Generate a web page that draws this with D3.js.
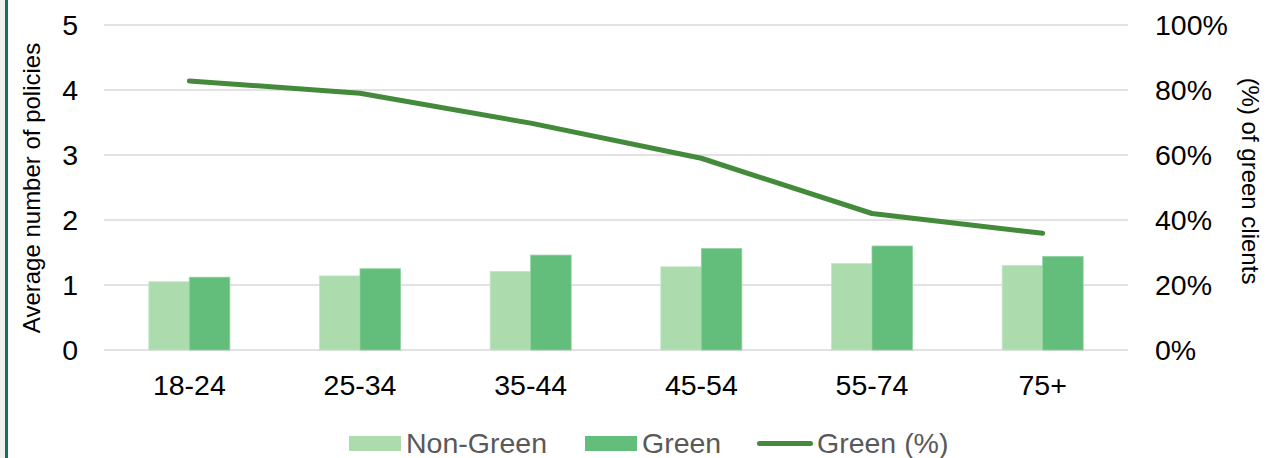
<!DOCTYPE html>
<html>
<head>
<meta charset="utf-8">
<script src="https://cdn.jsdelivr.net/npm/d3@7"></script>
<style>
  html, body { margin: 0; padding: 0; background: #ffffff; }
  svg { display: block; font-family: "Liberation Sans", Arial, sans-serif; }
</style>
</head>
<body>
<svg id="chart" width="1279" height="458"></svg>
<script>
// Age bands and series
const categories = ["18-24", "25-34", "35-44", "45-54", "55-74", "75+"];
const nonGreen = [1.05, 1.14, 1.21, 1.28, 1.33, 1.30];
const green = [1.12, 1.25, 1.46, 1.56, 1.60, 1.44];
const greenPct = [82.8, 79.0, 69.8, 59.0, 42.0, 35.9];
const leftTicks = [0, 1, 2, 3, 4, 5];
const rightTicks = [0, 20, 40, 60, 80, 100];
const seriesNames = ["Non-Green", "Green", "Green (%)"];

const colors = { nonGreen: "#acdbad", green: "#63be7b", line: "#438a3a" };

const svg = d3.select("#chart");
const W = 1279, H = 458;
const plot = { left: 104, right: 1128, top: 25, bottom: 350 };

// Frame strip on the left edge
svg.append("rect").attr("x", 0).attr("y", 0).attr("width", 5).attr("height", H).attr("fill", "#f0f0f0");
svg.append("rect").attr("x", 5).attr("y", 0).attr("width", 3).attr("height", H).attr("fill", "#137060");

const x = d3.scaleBand().domain(categories).range([plot.left, plot.right]).paddingInner(0).paddingOuter(0);
const y = d3.scaleLinear().domain([0, 5]).range([plot.bottom, plot.top]);
const yR = d3.scaleLinear().domain([0, 100]).range([plot.bottom, plot.top]);

// Gridlines
svg.append("g").selectAll("line").data(leftTicks).join("line")
  .attr("x1", plot.left).attr("x2", plot.right)
  .attr("y1", d => y(d)).attr("y2", d => y(d))
  .attr("stroke", "#d9d9d9").attr("stroke-width", 1.5);

// Left axis
const leftAxis = svg.append("g").attr("transform", `translate(${plot.left},0)`)
  .call(d3.axisLeft(y).tickValues(leftTicks).tickSize(0).tickPadding(26).tickFormat(d3.format("d")));
leftAxis.select(".domain").remove();
leftAxis.selectAll("text").attr("font-size", 28.5).attr("fill", "#000").attr("font-family", "Liberation Sans, Arial, sans-serif");

// Right axis
const rightAxis = svg.append("g").attr("transform", `translate(${plot.right},0)`)
  .call(d3.axisRight(yR).tickValues(rightTicks).tickSize(0).tickPadding(27).tickFormat(d => d + "%"));
rightAxis.select(".domain").remove();
rightAxis.selectAll("text").attr("font-size", 28.5).attr("fill", "#000").attr("font-family", "Liberation Sans, Arial, sans-serif");

// Bottom axis
const bottomAxis = svg.append("g").attr("transform", `translate(0,${plot.bottom})`)
  .call(d3.axisBottom(x).tickSize(0).tickPadding(25));
bottomAxis.select(".domain").remove();
bottomAxis.selectAll("text").attr("font-size", 28.5).attr("fill", "#000").attr("font-family", "Liberation Sans, Arial, sans-serif");

// Bars
const barW = 40.5;
const groups = svg.append("g").selectAll("g").data(categories).join("g")
  .attr("transform", d => `translate(${x(d) + x.bandwidth() / 2},0)`);
groups.append("rect")
  .attr("x", -barW).attr("width", barW)
  .attr("y", (d, i) => y(nonGreen[i])).attr("height", (d, i) => y(0) - y(nonGreen[i]))
  .attr("fill", colors.nonGreen).attr("stroke", "#c4e6c5").attr("stroke-width", 0.8);
groups.append("rect")
  .attr("x", 0).attr("width", barW)
  .attr("y", (d, i) => y(green[i])).attr("height", (d, i) => y(0) - y(green[i]))
  .attr("fill", colors.green).attr("stroke", "#8fd0a0").attr("stroke-width", 0.8);

// Line on the secondary axis
const line = d3.line()
  .x((d, i) => x(categories[i]) + x.bandwidth() / 2)
  .y(d => yR(d));
svg.append("path").datum(greenPct)
  .attr("d", line).attr("fill", "none")
  .attr("stroke", colors.line).attr("stroke-width", 5)
  .attr("stroke-linecap", "round").attr("stroke-linejoin", "round");

// Axis titles
svg.append("text")
  .attr("transform", `translate(40,188) rotate(-90)`)
  .attr("text-anchor", "middle").attr("font-size", 24).attr("fill", "#000")
  .text("Average number of policies");
svg.append("text")
  .attr("transform", `translate(1242,181) rotate(90)`)
  .attr("text-anchor", "middle").attr("font-size", 24).attr("fill", "#000")
  .text("(%) of green clients");

// Legend
const legend = svg.append("g").attr("font-size", 28.5).attr("fill", "#595959");
const lx = [349, 585, 757];
legend.append("rect").attr("x", lx[0]).attr("y", 436).attr("width", 52).attr("height", 15).attr("fill", colors.nonGreen);
legend.append("text").attr("x", lx[0] + 57).attr("y", 453).text(seriesNames[0]);
legend.append("rect").attr("x", lx[1]).attr("y", 436).attr("width", 52).attr("height", 15).attr("fill", colors.green);
legend.append("text").attr("x", lx[1] + 57).attr("y", 453).text(seriesNames[1]);
legend.append("line").attr("x1", lx[2] + 2.5).attr("x2", lx[2] + 53.5).attr("y1", 443.5).attr("y2", 443.5)
  .attr("stroke", colors.line).attr("stroke-width", 5).attr("stroke-linecap", "round");
legend.append("text").attr("x", lx[2] + 60).attr("y", 453).text(seriesNames[2]);
</script>
</body>
</html>
